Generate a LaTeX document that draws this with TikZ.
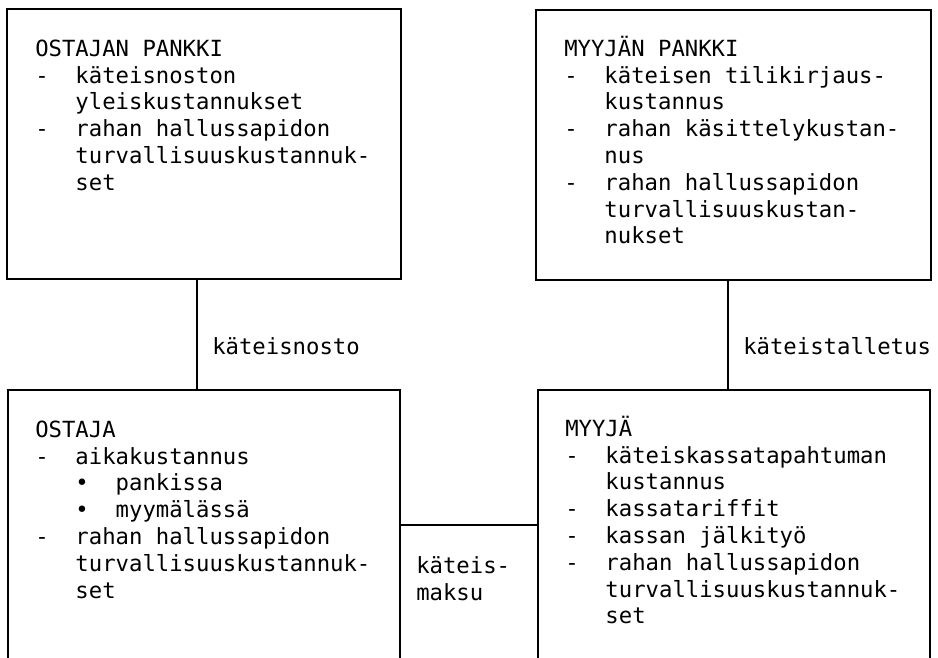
\documentclass[tikz,border=0pt]{standalone}
\usepackage{fontspec}
\setmonofont{DejaVu Sans Mono}
\usetikzlibrary{fit}
\newcommand\fs{\rule{0pt}{16pt}}
\begin{document}
\begin{tikzpicture}[x=0.75pt,y=-0.75pt,
  box/.style={draw, line width=1.5pt, inner sep=0pt, rectangle},
  txt/.style={font=\ttfamily\fontsize{16.7}{20.1}\selectfont, align=left, inner sep=0pt, anchor=north west},
  lbl/.style={font=\ttfamily\fontsize{16.7}{20.1}\selectfont, inner sep=0pt, anchor=base west},
  conn/.style={line width=1.5pt}]
\useasboundingbox (0,0) rectangle (938,657);
\clip (0,0) rectangle (938,657);
% boxes
\node[box, fit={(7,9) (401,279)}] (obank) {};
\node[box, fit={(536,10) (931,280)}] (sbank) {};
\node[box, fit={(8,390) (400,700)}] (buyer) {};
\node[box, fit={(538,390) (930,700)}] (seller) {};
% texts
\node[txt] (tobank) at (35,34.7) {\fs OSTAJAN PANKKI\\
-\ \ käteisnoston\\
\ \ \ yleiskustannukset\\
-\ \ rahan hallussapidon\\
\ \ \ turvallisuuskustannuk-\\
\ \ \ set};
\node[txt] (tsbank) at (564,34.7) {\fs MYYJÄN PANKKI\\
-\ \ käteisen tilikirjaus-\\
\ \ \ kustannus\\
-\ \ rahan käsittelykustan-\\
\ \ \ nus\\
-\ \ rahan hallussapidon\\
\ \ \ turvallisuuskustan-\\
\ \ \ nukset};
\node[txt] (tbuyer) at (35,415.7) {\fs OSTAJA\\
-\ \ aikakustannus\\
\ \ \ •\ \ pankissa\\
\ \ \ •\ \ myymälässä\\
-\ \ rahan hallussapidon\\
\ \ \ turvallisuuskustannuk-\\
\ \ \ set};
\node[txt] (tseller) at (565,414.7) {\fs MYYJÄ\\
-\ \ käteiskassatapahtuman\\
\ \ \ kustannus\\
-\ \ kassatariffit\\
-\ \ kassan jälkityö\\
-\ \ rahan hallussapidon\\
\ \ \ turvallisuuskustannuk-\\
\ \ \ set};
% connectors
\coordinate (cx1) at (197,0);
\coordinate (cx2) at (728,0);
\coordinate (cy3) at (0,525);
\draw[conn] (obank.south -| cx1) -- (buyer.north -| cx1);
\draw[conn] (sbank.south -| cx2) -- (seller.north -| cx2);
\draw[conn] (buyer.east |- cy3) -- (seller.west |- cy3);
% labels
\node[lbl] (l1) at (212,354) {käteisnosto};
\node[lbl] (l2) at (743,354) {käteistalletus};
\node[txt] (l3) at (416,551.7) {\fs käteis-\\maksu};
\end{tikzpicture}
\end{document}
